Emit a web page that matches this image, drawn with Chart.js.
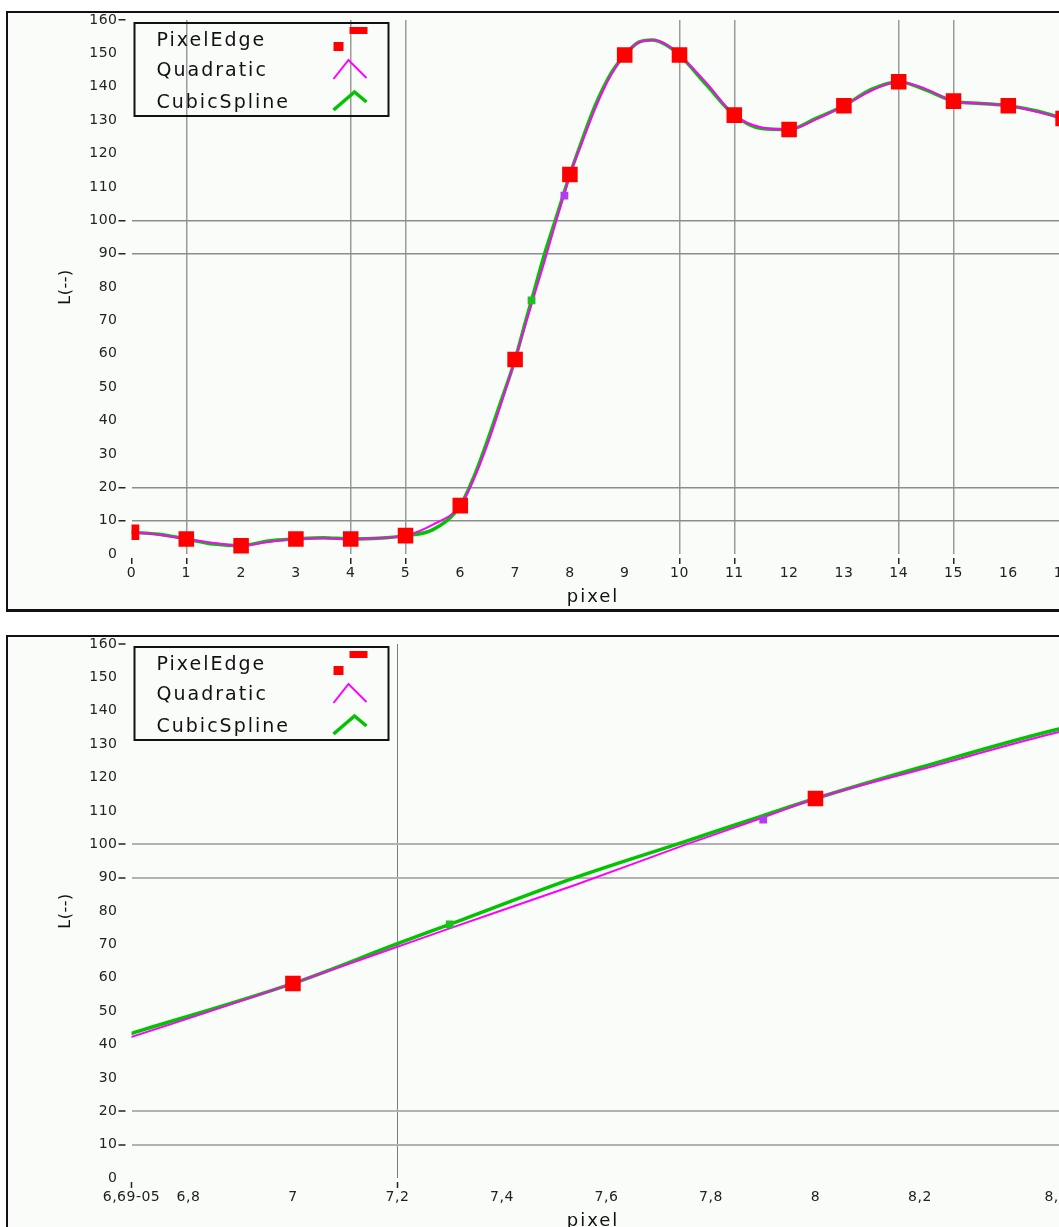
<!DOCTYPE html>
<html>
<head>
<meta charset="utf-8">
<title>PixelEdge interpolation</title>
<script src="https://cdn.jsdelivr.net/npm/chart.js@4.4.1/dist/chart.umd.min.js"></script>
<style>
  html, body { margin: 0; padding: 0; background: #fff; }
  #page { position: relative; width: 1059px; height: 1227px; overflow: hidden; }
  .frame { position: absolute; left: 6px; width: 1200px; box-sizing: border-box;
           border: 2px solid #111; background: #fafcfa; }
  #frameTop { top: 11px; height: 601px; border-bottom-width: 3px; }
  #frameBottom { top: 635px; height: 700px; }
  canvas { position: absolute; left: 0; }
  #edgeChart { top: 0; }
  #zoomChart { top: 624px; }
</style>
</head>
<body>
<div id="page">
  <div class="frame" id="frameTop"></div>
  <div class="frame" id="frameBottom"></div>
  <canvas id="edgeChart" width="1140" height="620"></canvas>
  <canvas id="zoomChart" width="1090" height="620"></canvas>
</div>
<script>
// Sampled edge profile (one value per pixel)
const edgeX = [0, 1, 2, 3, 4, 5, 6, 7, 8, 9, 10, 11, 12, 13, 14, 15, 16, 17];
const edgeY = [6.5, 4.5, 2.5, 4.5, 4.5, 5.5, 14.5, 58.3, 113.7, 149.5, 149.5, 131.5, 127.2, 134.3, 141.5, 135.7, 134.3, 130.5];

// Interpolated profiles
const curveX = [0, 0.5, 1, 1.5, 2, 2.5, 3, 3.5, 4, 4.5, 5, 5.5, 6, 6.25, 6.5, 6.69, 7, 7.2, 7.3, 7.54, 7.75, 7.9, 8, 8.2, 8.46, 8.75, 9, 9.25, 9.5, 9.75, 10, 10.5, 11, 11.5, 12, 12.5, 13, 13.5, 14, 14.5, 15, 15.5, 16, 16.5, 17];
const quadraticY = [6.5, 5.8, 4.5, 3.3, 2.5, 3.6, 4.5, 4.7, 4.5, 4.8, 5.5, 8.8, 14.5, 22.5, 33, 42.2, 58.3, 69.3, 74.8, 87.8, 99.8, 108.0, 113.7, 122.3, 133.4, 143.5, 149.5, 153.2, 154, 152.8, 149.5, 141, 131.5, 127.8, 127.2, 130.3, 134.3, 138.8, 141.5, 139.3, 135.7, 135, 134.3, 132.6, 130.5];
const cubicSplineY = [6.5, 5.9, 4.5, 3.0, 2.5, 3.9, 4.5, 4.9, 4.5, 4.7, 5.5, 7.3, 14.5, 23.2, 34.2, 43.3, 58.3, 70.2, 76, 90, 100.8, 108.6, 113.7, 123, 134.3, 144, 149.5, 153.3, 154, 152.6, 149.5, 140.4, 131.5, 127.5, 127.2, 130.6, 134.3, 139.2, 141.5, 139, 135.7, 135, 134.3, 132.8, 130.5];

// Edge positions found by each method [x, y]
const quadraticEdge = [7.9, 107.4];
const cubicSplineEdge = [7.3, 76];

// Axis ticks
const levelTicks = [0, 10, 20, 30, 40, 50, 60, 70, 80, 90, 100, 110, 120, 130, 140, 150, 160];
const pixelTicks = [0, 1, 2, 3, 4, 5, 6, 7, 8, 9, 10, 11, 12, 13, 14, 15, 16, 17, 18];
const zoomTicks = [6.691, 6.8, 7, 7.2, 7.4, 7.6, 7.8, 8, 8.2, 8.47];
const zoomTickLabels = ['6,69-05', '6,8', '7', '7,2', '7,4', '7,6', '7,8', '8', '8,2', '8,47'];

const colors = { edge: '#ff0000', quad: '#ff00ff', spline: '#00c400', quadMark: '#b43cf0', splineMark: '#1fbf1f' };

Chart.defaults.font.family = '"DejaVu Sans", sans-serif';
Chart.defaults.font.size = 14;
Chart.defaults.color = '#222';

const pts = (xs, ys) => xs.map((x, i) => ({ x: x, y: ys[i] }));

function buildDatasets() {
  return [
    { label: 'PixelEdge', data: pts(edgeX, edgeY), showLine: false, pointStyle: 'rect',
      pointRadius: 11, pointHoverRadius: 11, backgroundColor: colors.edge, borderWidth: 0, order: 0 },
    { label: 'Quadratic', data: pts(curveX, quadraticY), borderColor: colors.quad, borderWidth: 2,
      pointRadius: 0, cubicInterpolationMode: 'monotone', order: 2 },
    { label: 'CubicSpline', data: pts(curveX, cubicSplineY), borderColor: colors.spline, borderWidth: 3.5,
      pointRadius: 0, cubicInterpolationMode: 'monotone', order: 3 },
    { label: 'Quadratic edge', data: [{ x: quadraticEdge[0], y: quadraticEdge[1] }], showLine: false,
      pointStyle: 'rect', pointRadius: 5.5, backgroundColor: colors.quadMark, borderWidth: 0, order: 1 },
    { label: 'CubicSpline edge', data: [{ x: cubicSplineEdge[0], y: cubicSplineEdge[1] }], showLine: false,
      pointStyle: 'rect', pointRadius: 5.5, backgroundColor: colors.splineMark, borderWidth: 0, order: 1 }
  ];
}

// Slightly widened lettering for every text drawn by the scales
const spacing = {
  id: 'spacing',
  beforeLayout(chart) { chart.ctx.letterSpacing = '0.5px'; },
  beforeDraw(chart) { chart.ctx.letterSpacing = '0.5px'; }
};

// Boxed legend in the top-left corner of the plot
const boxLegend = {
  id: 'boxLegend',
  afterDatasetsDraw(chart) {
    const ctx = chart.ctx, a = chart.chartArea;
    const L = a.left + 3, T = a.top + 3;
    ctx.save();
    ctx.lineWidth = 2;
    ctx.strokeStyle = '#111';
    ctx.strokeRect(L, T, 254, 93);
    ctx.font = '19px "DejaVu Sans"';
    ctx.letterSpacing = '2px';
    ctx.fillStyle = '#111';
    ctx.textBaseline = 'middle';
    const rows = [18, 48, 80];
    chart.data.datasets.slice(0, 3).forEach((ds, i) => ctx.fillText(ds.label, L + 22, T + rows[i]));
    ctx.fillStyle = colors.edge;
    ctx.fillRect(L + 199, T + 19, 10, 9);
    ctx.fillRect(L + 215, T + 4, 18, 7);
    ctx.lineJoin = 'miter';
    ctx.strokeStyle = colors.quad;
    ctx.lineWidth = 2;
    ctx.beginPath();
    ctx.moveTo(L + 199, T + 56); ctx.lineTo(L + 214, T + 37); ctx.lineTo(L + 232, T + 55);
    ctx.stroke();
    ctx.strokeStyle = colors.spline;
    ctx.lineWidth = 3.5;
    ctx.beginPath();
    ctx.moveTo(L + 199, T + 87); ctx.lineTo(L + 220, T + 69); ctx.lineTo(L + 232, T + 79);
    ctx.stroke();
    ctx.restore();
  }
};

// Horizontal axis caption
const xCaption = {
  id: 'xCaption',
  afterDraw(chart) {
    const ctx = chart.ctx;
    ctx.save();
    ctx.font = '18px "DejaVu Sans"';
    ctx.letterSpacing = '2px';
    ctx.fillStyle = '#111';
    ctx.textAlign = 'center';
    ctx.textBaseline = 'middle';
    ctx.fillText('pixel', 593, 597);
    ctx.restore();
  }
};

function yScale(gridOn, tickOn, gridColor, width) {
  return {
    type: 'linear', min: 0, max: 160,
    afterFit(s) { s.width = 131.5; },
    afterBuildTicks(s) { s.ticks = levelTicks.map(v => ({ value: v })); },
    border: { display: false },
    grid: {
      color: c => gridOn.includes(c.tick.value) ? gridColor : 'rgba(0,0,0,0)',
      lineWidth: width,
      tickColor: c => tickOn.includes(c.tick.value) ? '#222' : 'rgba(0,0,0,0)',
      tickLength: 13, tickWidth: 1.5, tickBorderDash: [7, 100]
    },
    ticks: { padding: 1 },
    title: { display: true, text: 'L(--)', font: { size: 16 }, color: '#111', padding: { top: 56, bottom: 0 } }
  };
}

function xGrid(gridOn, tickOn, gridColor, width) {
  return {
    color: c => gridOn.includes(c.tick.value) ? gridColor : 'rgba(0,0,0,0)',
    lineWidth: width,
    tickColor: c => tickOn.includes(c.tick.value) ? '#222' : 'rgba(0,0,0,0)',
    tickLength: 10, tickWidth: 1.5, tickBorderDash: [6, 100], tickBorderDashOffset: -4
  };
}

// Full edge profile
new Chart(document.getElementById('edgeChart'), {
  type: 'line',
  data: { datasets: buildDatasets() },
  options: {
    responsive: false, animation: false, devicePixelRatio: 1,
    layout: { padding: { left: 0, top: 20, right: 1140 - (131.5 + 18 * 54.8), bottom: 0 } },
    plugins: { legend: { display: false }, tooltip: { enabled: false } },
    scales: {
      x: {
        type: 'linear', min: 0, max: 18,
        afterFit(s) { s.height = 66; },
        afterBuildTicks(s) { s.ticks = pixelTicks.map(v => ({ value: v })); },
        border: { display: false },
        grid: xGrid([1, 4, 5, 10, 11, 14, 15], [0, 1, 4, 5, 10, 11, 14, 15], '#9a9a9a', 1.5),
        ticks: { autoSkip: false, maxRotation: 0, padding: 1, callback: v => String(v) }
      },
      y: yScale([10, 20, 90, 100], [10, 20, 90, 100, 160], '#8c8c8c', 1.5)
    }
  },
  plugins: [spacing, boxLegend, xCaption]
});

// Close-up of the rising edge
new Chart(document.getElementById('zoomChart'), {
  type: 'line',
  data: { datasets: buildDatasets() },
  options: {
    responsive: false, animation: false, devicePixelRatio: 1,
    layout: { padding: { left: 0, top: 20, right: 1090 - (131.5 + (zoomTicks[zoomTicks.length - 1] - zoomTicks[0]) * 522.5), bottom: 0 } },
    plugins: { legend: { display: false }, tooltip: { enabled: false } },
    scales: {
      x: {
        type: 'linear', min: zoomTicks[0], max: zoomTicks[zoomTicks.length - 1],
        afterFit(s) { s.height = 66; },
        afterBuildTicks(s) { s.ticks = zoomTicks.map(v => ({ value: v })); },
        border: { display: false },
        grid: xGrid([7.2], [zoomTicks[0], 7.2], '#7c7c7c', 1),
        ticks: { autoSkip: false, maxRotation: 0, padding: 1, callback: (v, i) => zoomTickLabels[i] }
      },
      y: yScale([10, 20, 90, 100], [10, 20, 90, 100, 160], '#b2b2b2', 2)
    }
  },
  plugins: [spacing, boxLegend, xCaption]
});
</script>
</body>
</html>
